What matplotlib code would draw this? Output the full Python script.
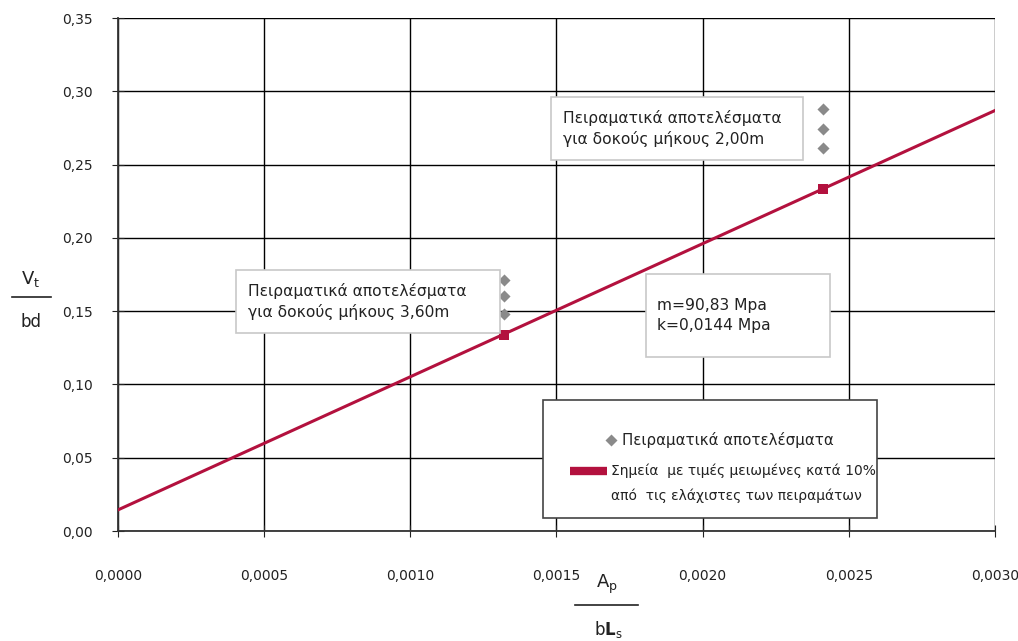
import matplotlib.pyplot as plt
from matplotlib.patches import Rectangle
from matplotlib.ticker import FuncFormatter, MultipleLocator

plt.rcParams['font.family'] = ['DejaVu Sans']

# fitted line V/bd = k + m * Ap/(bLs)
m_fit = 90.83
k_fit = 0.0144
x_range = [0.0, 0.0030]

# test results for both beam lengths
test_x = [0.00132, 0.00132, 0.00132, 0.00241, 0.00241, 0.00241]
test_y = [0.148, 0.160, 0.171, 0.261, 0.274, 0.288]

# points with values reduced by 10% from the minimum test values
red_x = [0.00132, 0.00241]
red_y = [0.134, 0.233]

line_y = [k_fit + m_fit * v for v in x_range]

red = '#b3113e'
grey = '#8a8a8a'
txt = '#222222'

fig = plt.figure(figsize=(10.18, 6.41), dpi=100)
ax = fig.add_axes([0.1159, 0.1716, 0.8615, 0.8003])

ax.plot(x_range, line_y, color=red, lw=2.2, zorder=3)
ax.scatter(test_x, test_y, marker='D', s=38, color=grey, zorder=4, linewidths=0)
ax.scatter(red_x, red_y, marker='s', s=55, color=red, zorder=5, linewidths=0)

ax.set_xlim(0, 0.003)
ax.set_ylim(0, 0.35)
ax.xaxis.set_major_locator(MultipleLocator(0.0005))
ax.yaxis.set_major_locator(MultipleLocator(0.05))
ax.xaxis.set_major_formatter(FuncFormatter(lambda v, p: f"{v:.4f}".replace('.', ',')))
ax.yaxis.set_major_formatter(FuncFormatter(lambda v, p: f"{v:.2f}".replace('.', ',')))
ax.grid(True, color='black', lw=1.0)
ax.set_axisbelow(True)
# outer gridlines are lighter
ax.get_ygridlines()[-1].set_color('#bbbbbb')
ax.get_xgridlines()[-1].set_color('#999999')
for s in ['top', 'right']:
    ax.spines[s].set_visible(False)
for s in ['left', 'bottom']:
    ax.spines[s].set_color('#333333')
    ax.spines[s].set_linewidth(1.3)
ax.tick_params(axis='both', direction='inout', length=8, labelsize=10, colors=txt)
ax.tick_params(axis='x', pad=23)
ax.tick_params(axis='y', pad=14)


def note_box(x0, y0, w, h, tx, label):
    ax.add_patch(Rectangle((x0, y0), w, h, transform=ax.transAxes,
                           fc='white', ec='#c8c8c8', lw=1.2, zorder=6))
    ax.text(tx, y0 + h / 2, label, transform=ax.transAxes, fontsize=11.2,
            color=txt, va='center', ha='left', linespacing=1.4, zorder=7)


note_box(0.4937, 0.7232, 0.2873, 0.1228, 0.5074,
         "Πειραματικά αποτελέσματα\nγια δοκούς μήκους 2,00m")
note_box(0.1345, 0.3860, 0.3010, 0.1228, 0.1482,
         "Πειραματικά αποτελέσματα\nγια δοκούς μήκους 3,60m")
note_box(0.6020, 0.3392, 0.2098, 0.1618, 0.6146,
         "m=90,83 Mpa\nk=0,0144 Mpa")

# legend frame and entries
ax.add_patch(Rectangle((0.4846, 0.0253), 0.3809, 0.2301, transform=ax.transAxes,
                       fc='white', ec='#444444', lw=1.2, zorder=6))
ax.plot([0.5621], [0.1774], transform=ax.transAxes, marker='D', ms=6, color=grey,
        mec='none', zorder=7, clip_on=False)
ax.text(0.5745, 0.1774, "Πειραματικά αποτελέσματα", transform=ax.transAxes,
        fontsize=10.8, color=txt, va='center', ha='left', zorder=7)
ax.plot([0.515, 0.5575], [0.1170, 0.1170], transform=ax.transAxes, color=red,
        lw=6, solid_capstyle='butt', zorder=7)
ax.text(0.5620, 0.1170, "Σημεία  με τιμές μειωμένες κατά 10%", transform=ax.transAxes,
        fontsize=10, color=txt, va='center', ha='left', zorder=7)
ax.text(0.5620, 0.0680, "από  τις ελάχιστες των πειραμάτων", transform=ax.transAxes,
        fontsize=10, color=txt, va='center', ha='left', zorder=7)

# axis labels written as fractions
fig.text(0.0305, 0.565, r"V$_{\rm t}$", fontsize=13, ha='center', va='center', color=txt)
fig.add_artist(plt.Line2D([0.012, 0.050], [0.536, 0.536], color=txt, lw=1.2))
fig.text(0.0305, 0.497, "bd", fontsize=12, ha='center', va='center', color=txt)
fig.text(0.596, 0.088, r"A$_{\rm p}$", fontsize=13, ha='center', va='center', color=txt)
fig.add_artist(plt.Line2D([0.565, 0.627], [0.0555, 0.0555], color=txt, lw=1.2))
fig.text(0.598, 0.018, r"b$\mathbf{L}_{\rm s}$", fontsize=12, ha='center', va='center', color=txt)

fig.savefig("out.png", dpi=100)
